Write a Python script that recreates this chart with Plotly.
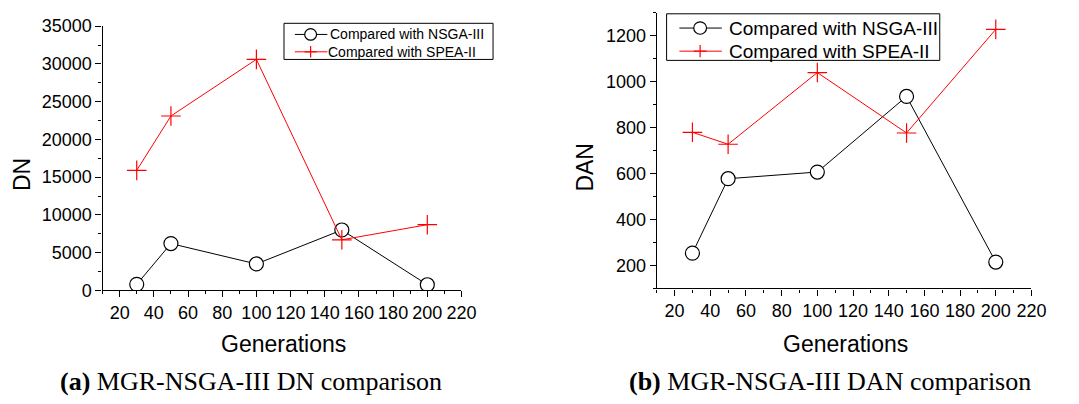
import plotly.graph_objects as go

generations = [30, 50, 100, 150, 200]
dn_nsga3 = [800, 6200, 3500, 8000, 750]
dn_spea2 = [15900, 23100, 30600, 6700, 8700]
dan_nsga3 = [254, 578, 607, 936, 215]
dan_spea2 = [780, 728, 1040, 777, 1228]
x_ticks = [20, 40, 60, 80, 100, 120, 140, 160, 180, 200, 220]
dn_ticks = [0, 5000, 10000, 15000, 20000, 25000, 30000, 35000]
dan_ticks = [200, 400, 600, 800, 1000, 1200]
name_nsga = "Compared with NSGA-III"
name_spea = "Compared with SPEA-II"

W, H = 1079, 404
SANS = "Liberation Sans, Arial, sans-serif"
SERIF = "Liberation Serif, Times New Roman, serif"
RED = "#ff0000"

def px(x):
    return x / W

def py(y):
    return 1 - y / H

fig = go.Figure()

def add_pair(xa, ya, y1, y2):
    fig.add_trace(go.Scatter(
        x=generations, y=y1, name=name_nsga, mode="lines+markers",
        line=dict(color="black", width=1),
        marker=dict(symbol="circle", size=14, color="white",
                    line=dict(color="black", width=1.2)),
        xaxis=xa, yaxis=ya, showlegend=False))
    fig.add_trace(go.Scatter(
        x=generations, y=y2, name=name_spea, mode="lines+markers",
        line=dict(color=RED, width=1),
        marker=dict(symbol="cross-thin-open", size=14,
                    line=dict(color=RED, width=1.2)),
        xaxis=xa, yaxis=ya, showlegend=False))

add_pair("x", "y", dn_nsga3, dn_spea2)
add_pair("x2", "y2", dan_nsga3, dan_spea2)

axis_common = dict(
    showline=True, linecolor="black", linewidth=1.2, mirror=False,
    ticks="outside", ticklen=6, tickwidth=1.2, tickcolor="black",
    showgrid=False, zeroline=False,
    tickfont=dict(family=SANS, size=18, color="black"),
)

xaxis_cfg = dict(axis_common, range=[10, 220], tickvals=x_ticks,
                 minor=dict(dtick=10, tick0=0, ticks="outside", ticklen=3,
                            tickwidth=1, tickcolor="black", showgrid=False))

fig.update_layout(
    width=W, height=H,
    margin=dict(l=0, r=0, t=0, b=0),
    paper_bgcolor="white", plot_bgcolor="white",
    xaxis=dict(xaxis_cfg, domain=[104 / W, 468 / W], anchor="y"),
    yaxis=dict(axis_common, domain=[(H - 295) / H, (H - 17) / H], anchor="x",
               range=[0, 35000], tickvals=dn_ticks, tickformat="d",
               minor=dict(dtick=2500, ticks="outside", ticklen=3,
                          tickwidth=1, tickcolor="black", showgrid=False)),
    xaxis2=dict(xaxis_cfg, domain=[666 / W, 1046 / W], anchor="y2"),
    yaxis2=dict(axis_common, domain=[(H - 293) / H, (H - 3) / H], anchor="x2",
                range=[100, 1300], tickvals=dan_ticks, tickformat="d",
                minor=dict(dtick=100, tick0=0, ticks="outside", ticklen=3,
                           tickwidth=1, tickcolor="black", showgrid=False)),
    showlegend=False,
)

annotations = [
    dict(text="Generations", x=px(287), y=py(351), font=dict(family=SANS, size=23)),
    dict(text="Generations", x=px(857), y=py(351), font=dict(family=SANS, size=23)),
    dict(text="DN", x=px(23), y=py(173), textangle=-90, font=dict(family=SANS, size=23)),
    dict(text="DAN", x=px(593), y=py(165), textangle=-90, font=dict(family=SANS, size=23)),
    dict(text="<b>(a)</b> MGR-NSGA-III DN comparison", x=px(255), y=py(391),
         font=dict(family=SERIF, size=26)),
    dict(text="<b>(b)</b> MGR-NSGA-III DAN comparison", x=px(842), y=py(391),
         font=dict(family=SERIF, size=26)),
]
for a in annotations:
    a.update(xanchor="center", yanchor="middle")

shapes = []

def legend_box(x0, y0, x1, y1, lx0, lx1, mx, rows, tx, fsize, msize):
    shapes.append(dict(type="rect", x0=px(x0), x1=px(x1), y0=py(y1), y1=py(y0),
                       line=dict(color="black", width=1), fillcolor="white"))
    r = msize / 2
    # row 1: circle
    yc = rows[0]
    shapes.append(dict(type="line", x0=px(lx0), x1=px(lx1), y0=py(yc), y1=py(yc),
                       line=dict(color="black", width=1)))
    shapes.append(dict(type="circle", x0=px(mx - r), x1=px(mx + r),
                       y0=py(yc + r), y1=py(yc - r),
                       line=dict(color="black", width=1.2), fillcolor="white"))
    annotations.append(dict(text=name_nsga, x=px(tx[0]), y=py(yc), xanchor="left",
                            yanchor="middle", font=dict(family=SANS, size=fsize)))
    # row 2: cross
    yc = rows[1]
    shapes.append(dict(type="line", x0=px(lx0), x1=px(lx1), y0=py(yc), y1=py(yc),
                       line=dict(color=RED, width=1)))
    shapes.append(dict(type="line", x0=px(mx), x1=px(mx), y0=py(yc + r), y1=py(yc - r),
                       line=dict(color=RED, width=1.2)))
    shapes.append(dict(type="line", x0=px(mx - r), x1=px(mx + r), y0=py(yc), y1=py(yc),
                       line=dict(color=RED, width=1.2)))
    annotations.append(dict(text=name_spea, x=px(tx[1]), y=py(yc), xanchor="left",
                            yanchor="middle", font=dict(family=SANS, size=fsize)))

legend_box(288, 14, 500, 52, 299, 332, 315, (25.7, 44), (333, 331), 14, 12)
legend_box(676, 4, 953, 53, 689, 732, 710, (19, 43.3), (737, 737), 19, 13)

for s in shapes:
    s.update(xref="paper", yref="paper", layer="above")

for a in annotations:
    a.update(xref="paper", yref="paper", showarrow=False)
    a["font"]["color"] = "black"

fig.update_layout(annotations=annotations, shapes=shapes)

fig.write_html("out.html")
